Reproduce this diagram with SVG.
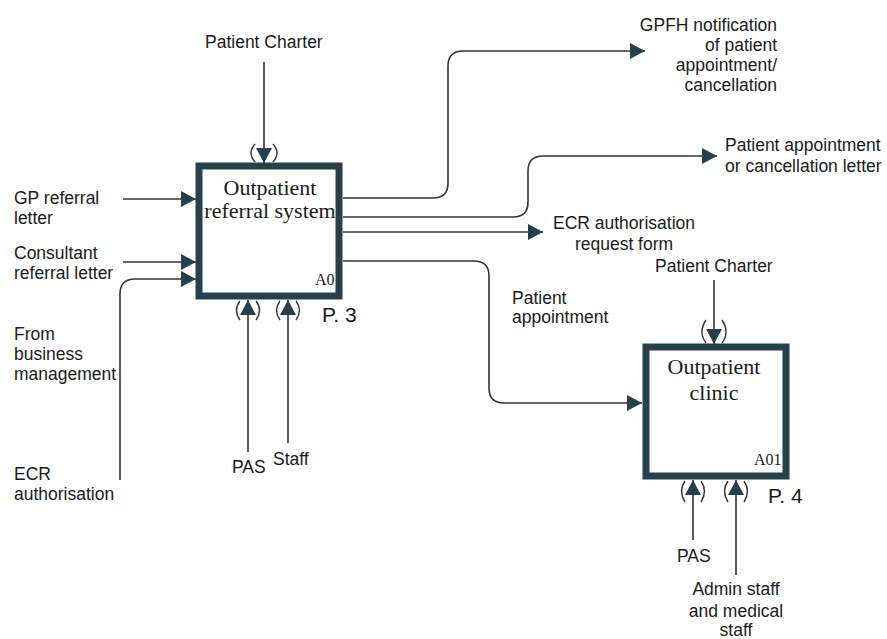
<svg xmlns="http://www.w3.org/2000/svg" width="887" height="639" viewBox="0 0 887 639">
<defs>
<style>
.lbl{font-family:"Liberation Sans",Arial,sans-serif;font-size:17.5px;fill:#1a1a1a}
.ttl{font-family:"Liberation Serif","Times New Roman",serif;font-size:22px;fill:#1a1a1a;text-anchor:middle}
.code{font-family:"Liberation Serif","Times New Roman",serif;font-size:16px;fill:#1a1a1a}
.pg{font-family:"Liberation Sans",Arial,sans-serif;font-size:21px;fill:#1a1a1a}
.box{fill:#ffffff;stroke:#27404c;stroke-width:7}
.con{fill:none;stroke:#333333;stroke-width:1.6;marker-end:url(#ah)}
.par{fill:none;stroke:#333333;stroke-width:1.4}
</style>
<marker id="ah" viewBox="0 0 15 16" refX="15" refY="8" markerWidth="15" markerHeight="16" markerUnits="userSpaceOnUse" orient="auto">
<path d="M0,0 L15,8 L0,16 z" fill="#27404c"/>
</marker>
</defs>
<rect width="887" height="639" fill="#ffffff"/>

<g id="A0">
<rect class="box" x="199" y="166" width="140" height="130"/>
<text class="ttl" x="270" y="195">Outpatient</text>
<text class="ttl" x="270" y="218">referral system</text>
<text class="code" x="315" y="285">A0</text>
<text class="pg" x="322" y="322">P. 3</text>
</g>

<g id="A01">
<rect class="box" x="646" y="347" width="140" height="129"/>
<text class="ttl" x="714" y="374">Outpatient</text>
<text class="ttl" x="714" y="400">clinic</text>
<text class="code" x="754" y="465">A01</text>
<text class="pg" x="768" y="503">P. 4</text>
</g>

<g id="connectors">
<path class="con" d="M264 62 V163"/>
<path class="con" d="M123 199 H196"/>
<path class="con" d="M123 262 H196"/>
<path class="con" d="M120 480 V294 Q120 279 135 279 H196"/>
<path class="con" d="M248 452 V300"/>
<path class="con" d="M288 443 V300"/>
<path class="con" d="M343 198 H433 Q448 198 448 183 V66 Q448 51 463 51 H645"/>
<path class="con" d="M343 217 H513 Q528 217 528 202 V171 Q528 156 543 156 H717"/>
<path class="con" d="M343 232 H543"/>
<path class="con" d="M343 261 H474 Q489 261 489 276 V388 Q489 403 504 403 H642"/>
<path class="con" d="M714 280 V344"/>
<path class="con" d="M693 540 V480"/>
<path class="con" d="M736 575 V480"/>
<!-- tunnel parentheses -->
<path class="par" d="M255 144 Q247 153 255 162 M273 144 Q281 153 273 162"/>
<path class="par" d="M240 301 Q233 310 240 320 M256 301 Q263 310 256 320"/>
<path class="par" d="M280 301 Q273 310 280 320 M296 301 Q303 310 296 320"/>
<path class="par" d="M706 320 Q698 332 706 343 M722 320 Q730 332 722 343"/>
<path class="par" d="M685 481 Q678 491 685 502 M701 481 Q708 491 701 502"/>
<path class="par" d="M728 481 Q721 491 728 502 M744 481 Q751 491 744 502"/>
</g>

<g id="labels">
<text class="lbl" x="205" y="48">Patient Charter</text>
<text class="lbl" x="14" y="204">GP referral</text>
<text class="lbl" x="14" y="224">letter</text>
<text class="lbl" x="14" y="259">Consultant</text>
<text class="lbl" x="14" y="279">referral letter</text>
<text class="lbl" x="14" y="340">From</text>
<text class="lbl" x="14" y="360">business</text>
<text class="lbl" x="14" y="380">management</text>
<text class="lbl" x="14" y="480">ECR</text>
<text class="lbl" x="14" y="500">authorisation</text>
<text class="lbl" x="232" y="473">PAS</text>
<text class="lbl" x="273" y="465">Staff</text>
<text class="lbl" x="777" y="31" text-anchor="end">GPFH notification</text>
<text class="lbl" x="777" y="51" text-anchor="end">of patient</text>
<text class="lbl" x="777" y="71" text-anchor="end">appointment/</text>
<text class="lbl" x="777" y="91" text-anchor="end">cancellation</text>
<text class="lbl" x="725" y="151">Patient appointment</text>
<text class="lbl" x="725" y="172">or cancellation letter</text>
<text class="lbl" x="624" y="229" text-anchor="middle">ECR authorisation</text>
<text class="lbl" x="624" y="250" text-anchor="middle">request form</text>
<text class="lbl" x="655" y="272">Patient Charter</text>
<text class="lbl" x="512" y="304">Patient</text>
<text class="lbl" x="512" y="323">appointment</text>
<text class="lbl" x="677" y="562">PAS</text>
<text class="lbl" x="736" y="595" text-anchor="middle">Admin staff</text>
<text class="lbl" x="736" y="617" text-anchor="middle">and medical</text>
<text class="lbl" x="736" y="636" text-anchor="middle">staff</text>
</g>
</svg>
